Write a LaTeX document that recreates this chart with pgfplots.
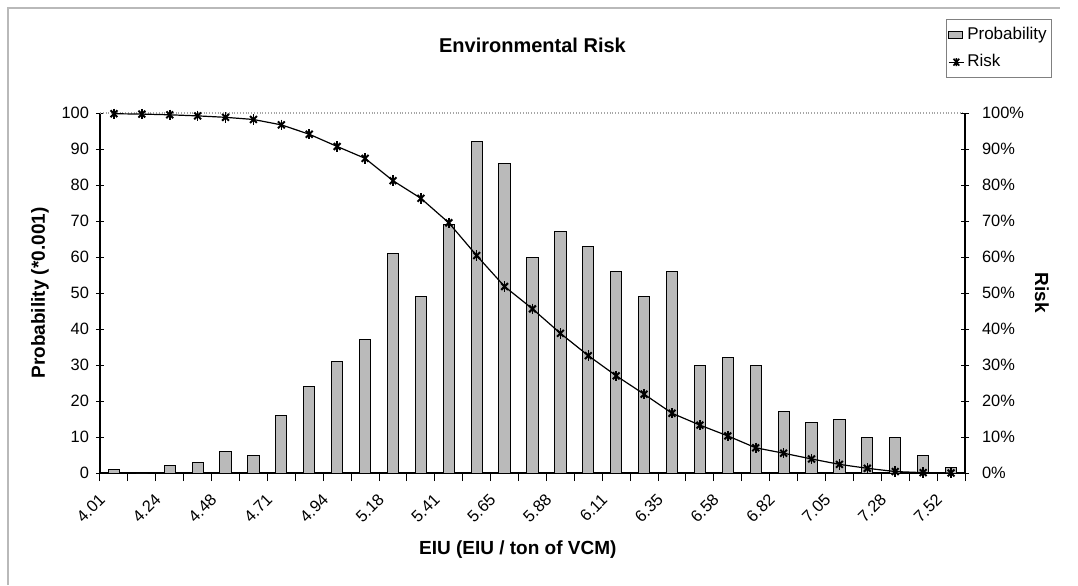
\documentclass[border=0pt]{standalone}
\usepackage{pgfplots}
\usepackage{pgfplotstable}
\pgfplotsset{compat=1.18}
\usepackage{fontspec}
\setmainfont{Liberation Sans}

\pgfplotstableread{
idx prob risk
0 1 99.8
1 0 99.7
2 2 99.5
3 3 99.2
4 6 98.8
5 5 98.2
6 16 96.7
7 24 94.1
8 31 90.7
9 37 87.4
10 61 81.2
11 49 76.3
12 69 69.5
13 92 60.4
14 86 51.8
15 60 45.6
16 67 38.8
17 63 32.6
18 56 27.0
19 49 21.9
20 56 16.6
21 30 13.3
22 32 10.3
23 30 7.0
24 17 5.5
25 14 3.9
26 15 2.4
27 10 1.3
28 10 0.4
29 5 0.1
30 1.5 0.0
}\datatable

\definecolor{barfill}{RGB}{186,186,186}

\begin{document}
\begin{tikzpicture}
\useasboundingbox (-50pt,-56pt) rectangle (489pt,236.5pt);
\draw[gray!55, line width=0.6pt] (-46pt,-56pt) -- (-46pt,232.5pt) -- (480pt,232.5pt);
\begin{axis}[
  at={(0,0)}, anchor=south west,
  scale only axis, width=432.5pt, height=180pt,
  xmin=-0.5, xmax=30.5, ymin=0, ymax=100,
  axis x line*=bottom, axis y line*=left,
  axis line style={line width=0.6pt},
  /pgf/number format/assume math mode=true,
  xtick={-0.5,0.5,...,30.5},
  xticklabels={},
  extra x ticks={0,2,...,30},
  extra x tick labels={4.01,4.24,4.48,4.71,4.94,5.18,5.41,5.65,5.88,6.11,6.35,6.58,6.82,7.05,7.28,7.52},
  extra x tick style={major tick length=0pt},
  ytick={0,10,...,100},
  major tick length=4pt,
  tick align=center,
  tick style={black, line width=0.5pt},
  x tick label style={anchor=north east, xshift=-8pt, yshift=-5pt, rotate=45, font=\fontsize{8.2}{9}\selectfont},
  y tick label style={font=\fontsize{8.2}{9}\selectfont},
  xlabel={\bfseries EIU (EIU / ton of VCM)},
  xlabel style={at={(axis description cs:0.483,-0.214)}, anchor=center, font=\fontsize{9.5}{11}\selectfont},
  ylabel={\bfseries Probability (*0.001)},
  ylabel style={at={(axis description cs:-0.0694,0.5)}, anchor=center, font=\fontsize{9.5}{11}\selectfont},
  title={\bfseries Environmental Risk},
  every axis title shift=0pt,
  title style={at={(axis description cs:0.5,1.189)}, anchor=center, font=\fontsize{10}{12}\selectfont},
  extra y ticks={100},
  extra y tick labels={},
  extra y tick style={grid=major, major grid style={gray!70, densely dotted, line width=0.6pt}, major tick length=0pt},
  ybar, bar width=5.6pt,
  clip=false,
]
\addplot[fill=barfill, draw=black, line width=0.5pt] table[x=idx, y=prob] {\datatable};
\end{axis}
\begin{axis}[
  at={(0,0)}, anchor=south west,
  scale only axis, width=432.5pt, height=180pt,
  xmin=-0.5, xmax=30.5, ymin=0, ymax=100,
  axis x line=none, axis y line*=right,
  axis line style={line width=0.6pt},
  /pgf/number format/assume math mode=true,
  ytick={0,10,...,100},
  yticklabel={\pgfmathprintnumber{\tick}\%},
  major tick length=4pt,
  tick align=center,
  tick style={black, line width=0.5pt},
  y tick label style={font=\fontsize{8.2}{9}\selectfont, xshift=3pt},
  ylabel={\bfseries Risk},
  ylabel style={at={(axis description cs:1.089,0.5)}, anchor=center, rotate=180, font=\fontsize{9.5}{11}\selectfont},
  legend style={at={(0.978,1.262)}, anchor=north west, draw=gray, line width=0.5pt,
    font=\fontsize{8.5}{10}\selectfont, inner xsep=1pt, inner ysep=2pt, row sep=2pt,
    cells={anchor=west}, nodes={inner xsep=1.5pt}},
  legend cell align=left,
  clip=false,
]
\addlegendimage{legend image code/.code={\draw[fill=barfill, draw=black, line width=0.5pt] (0cm,-0.06cm) rectangle (0.24cm,0.06cm);}}
\addlegendentry{Probability}
\addlegendimage{legend image code/.code={\draw[black, line width=0.5pt] (0cm,0cm) -- (0.26cm,0cm); \draw[black, line width=0.8pt] (0.08cm,-0.06cm) -- (0.18cm,0.06cm) (0.08cm,0.06cm) -- (0.18cm,-0.06cm) (0.13cm,-0.07cm) -- (0.13cm,0.07cm);}}
\addlegendentry{Risk}
\addplot[black, line width=0.6pt, mark=x, mark size=2.4pt, mark options={line width=1pt}, forget plot] table[x=idx, y=risk] {\datatable};
\addplot[only marks, black, mark=|, mark size=2.6pt, mark options={line width=0.8pt}, forget plot] table[x=idx, y=risk] {\datatable};
\end{axis}
\end{tikzpicture}
\end{document}
